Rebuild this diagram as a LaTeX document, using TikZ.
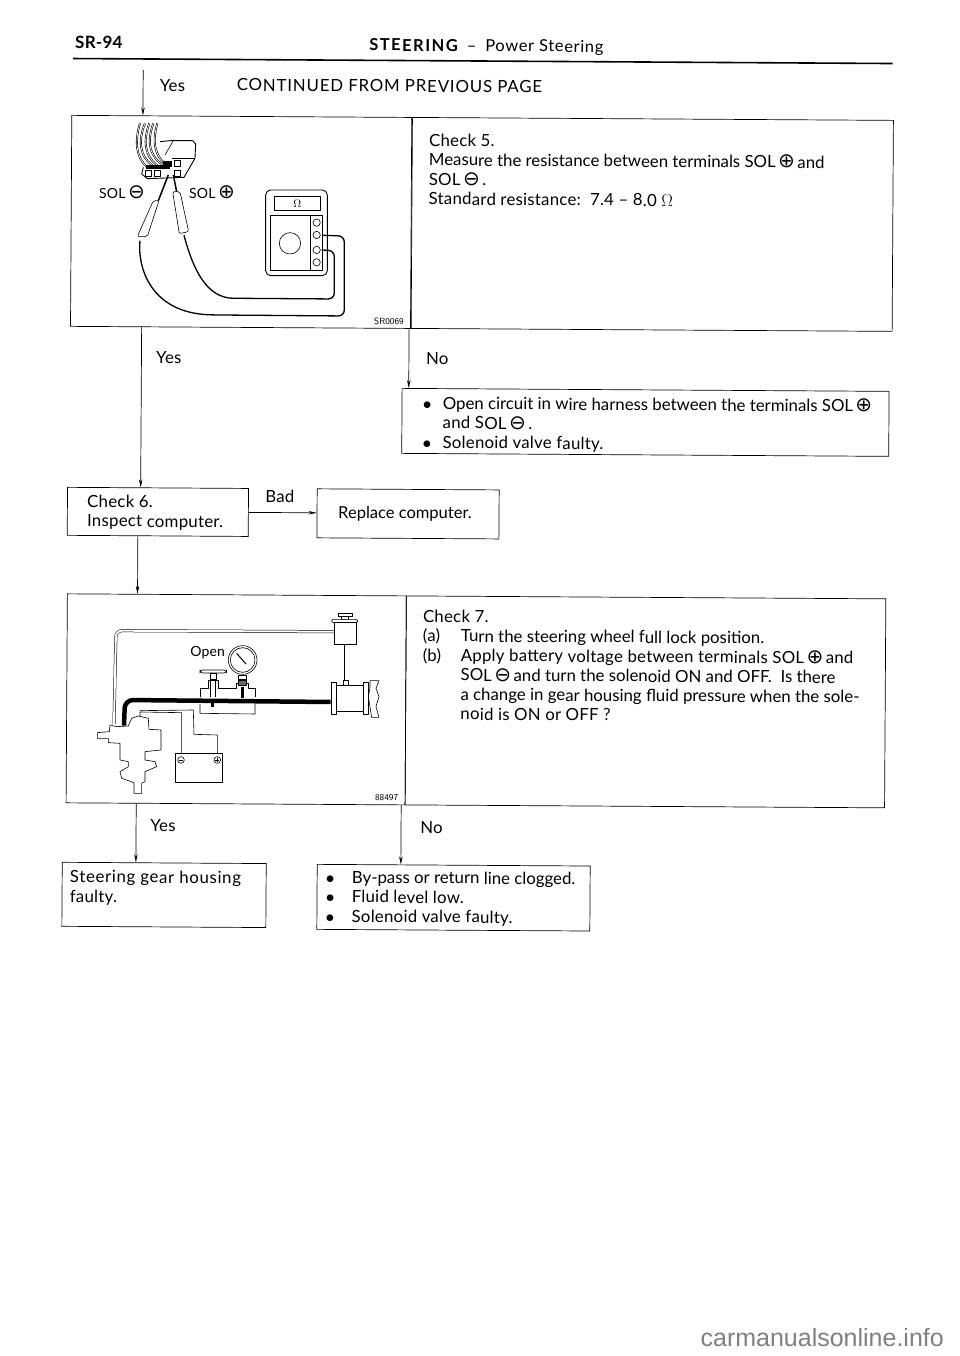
\documentclass[tikz,border=0pt]{standalone}
\usepackage{fontspec}
\setmainfont{Lato}[LetterSpace=1.5]
\newfontface\widefont{Lato}[LetterSpace=5]
\newfontface\narrowfont{Lato}[LetterSpace=0]
\newfontface\sitefont{Liberation Sans}
\newfontface\symfont{DejaVu Sans}
\usetikzlibrary{positioning, arrows.meta, calc}
\newcommand{\opl}{\hspace{2.5pt}{\symfont\fontsize{20}{20}\selectfont ⊕}\hspace{2.5pt}}
\newcommand{\omi}{\hspace{2.5pt}{\symfont\fontsize{20}{20}\selectfont ⊖}\hspace{2.5pt}}
\newcommand{\bul}[1][20pt]{\makebox[#1][l]{$\bullet$}}

\begin{document}
\begin{tikzpicture}[
  x=1pt, y=-1pt,
  % ---- Style definitions ----
  boxed/.style={
    draw, rectangle, line width=0.7pt, inner sep=0pt, anchor=north west
  },
  txt/.style={
    inner sep=0pt, align=left, anchor=north west,
    font=\fontsize{16.8}{19.5}\selectfont
  },
  tiny/.style={
    inner sep=0pt, font=\sffamily\fontsize{9}{10}\selectfont
  },
  figlbl/.style={
    inner sep=0pt, font=\fontsize{14}{16}\selectfont
  },
  arr/.style={
    -{Stealth[length=8pt, width=3.5pt]}, line width=0.7pt
  },
  pipe/.style={
    line width=0.5pt, double=white, double distance=2pt, rounded corners=6pt
  },
  fig/.style={
    line width=0.6pt, line join=round
  },
  lead/.style={
    line width=1.3pt, rounded corners=6pt
  },
]
\useasboundingbox (0,0) rectangle (960,1356);
\fill[white] (0,0) rectangle (960,1356);

% ---- Everything on the page sits a little skew ----
\begin{scope}[rotate around={-0.35:(480,678)}, transform shape]

% ---- Header ----
\node[inner sep=0pt, font=\bfseries\fontsize{17}{18}\selectfont] (page) at (95,45) {SR-94};
\node[inner sep=0pt, font=\fontsize{16.5}{18}\selectfont] (title) at (482.5,47)
  {{\bfseries\addfontfeature{LetterSpace=9}STEERING}\ \ –\ \ \addfontfeature{LetterSpace=4}Power Steering};
\coordinate (ruleL) at (69,61);
\coordinate (ruleR) at (889,61);
\draw[line width=1.6pt] (ruleL) -- (ruleR);

\node[txt, font=\widefont\fontsize{16.8}{19.5}\selectfont] (cont) at (233,80) {CONTINUED FROM PREVIOUS PAGE};
\node[txt] (yesa) at (156,81) {Yes};
\coordinate (stema) at (139.5,72);

% ---- Boxes (top to bottom) ----
\node[boxed, minimum width=340pt, minimum height=211pt] (figfive) at (68,117.5) {};
\node[boxed, minimum width=481pt, minimum height=211pt, right=0pt of figfive.north east, anchor=north west] (chkfive) {};
\node[txt, below right=16.5pt and 17pt of chkfive.north west] (chkfivetxt)
  {Check 5.\\
   {\narrowfont Measure the resistance between terminals SOL\opl and}\\
   SOL\omi.\\
   Standard resistance:\ \ 7.4 -- 8.0 $\Omega$};

\node[boxed, minimum width=487pt, minimum height=65pt] (nobox) at (400,388.5) {};
\node[txt, below right=8pt and 21pt of nobox.north west] (noboxtxt)
  {\bul{\narrowfont Open circuit in wire harness between the terminals SOL\opl}\\
   \phantom{\bul}and SOL\omi.\\
   \bul Solenoid valve faulty.};

\node[boxed, minimum width=181pt, minimum height=48pt] (chksix) at (66,489.5) {};
\node[txt, below right=7.5pt and 20pt of chksix.north west] (chksixtxt) {Check 6.\\Inspect computer.};

\node[boxed, minimum width=182pt, minimum height=49pt, right=68pt of chksix.north east, anchor=north west] (repl) {};
\node[txt, anchor=center, xshift=-3pt, font=\narrowfont\fontsize{16.5}{19.5}\selectfont] (repltxt) at (repl.center) {Replace computer.};

\node[boxed, minimum width=339pt, minimum height=209pt] (figseven) at (66.5,596) {};
\node[boxed, minimum width=479.5pt, minimum height=209pt] (chkseven) at (405.5,596) {};
\node[txt, below right=14pt and 17pt of chkseven.north west] (chkseventxt)
  {Check 7.\\
   \makebox[38pt][l]{(a)}{\narrowfont Turn the steering wheel full lock position.}\\
   \makebox[38pt][l]{(b)}Apply battery voltage between terminals SOL\opl and\\
   \hspace*{38pt}{\narrowfont SOL\omi and turn the solenoid ON and OFF.\ \ Is there}\\
   \hspace*{38pt}{\narrowfont a change in gear housing fluid pressure when the sole-}\\
   \hspace*{38pt}noid is ON or OFF ?};

\node[boxed, minimum width=204pt, minimum height=64pt] (gearbox) at (63,864.5) {};
\node[txt, below right=8pt and 8pt of gearbox.north west] (gearboxtxt) {{\addfontfeature{LetterSpace=4}Steering gear housing}\\faulty.};

\node[boxed, minimum width=273pt, minimum height=65pt] (bypass) at (318,865) {};
\node[txt, below right=6.5pt and 9pt of bypass.north west] (bypasstxt)
  {\bul[26pt]{\narrowfont By-pass or return line clogged.}\\
   \bul[26pt]Fluid level low.\\
   \bul[26pt]Solenoid valve faulty.};

% ---- Flow labels ----
\node[txt] (yesb) at (154,353) {Yes};
\node[txt] (nob) at (424,353) {No};
\node[txt] (bad) at (264,491) {Bad};
\node[txt] (yesc) at (151,821) {Yes};
\node[txt] (noc) at (421,822) {No};

% ---- Arrows ----
\coordinate (stemb) at (407,331);
\coordinate (stemc) at (137,540);
\coordinate (stemd) at (402,808);
\draw[arr] (stema) -- (stema |- figfive.north);
\draw[arr] (stema |- figfive.south) -- (stema |- chksix.north);
\draw[arr] (stemb |- figfive.south) -- (stemb |- nobox.north);
\draw[arr] (chksix.east) -- (repl.west |- chksix.east);
\draw[arr] (stemc |- chksix.south) -- (stemc |- figseven.north);
\draw[arr] (stemc |- figseven.south) -- (stemc |- gearbox.north);
\draw[arr] (stemd |- figseven.south) -- (stemd |- bypass.north);
\end{scope}

% ---- Ohmmeter picture ----
\begin{scope}[shift={(60,80)}, x=0.3333pt, y=-0.3333pt, fig]
  \foreach \a/\b/\c in {240/225/262, 255/235/285, 268/250/300, 280/262/320, 292/278/330}
    \draw[line width=0.6pt, double=white, double distance=0.7pt]
      (\a,130) .. controls (\b,180) and (\b,230) .. (\c,262);
  \draw[line width=0.9pt] (300,185) -- (330,182) -- (398,182) -- (407,192) -- (405,235) -- (372,292) -- (262,296) -- (245,282) -- (250,262);
  \draw (340,182) -- (315,225);
  \draw (335,235) -- (405,235);
  \fill (310,243) rectangle (335,262);
  \draw (342,240) rectangle (362,258);
  \draw (342,270) rectangle (362,288);
  \fill (258,255) rectangle (330,268);
  \draw (255,272) rectangle (275,288);
  \draw (282,272) rectangle (302,288);
  % probes
  \draw[line width=1.5pt] (325,285) -- (295,362);
  \draw[rounded corners=2pt] (280,362) -- (297,362) -- (262,470) -- (232,470) -- cycle;
  \draw[line width=1.5pt] (340,285) -- (350,335);
  \draw[rounded corners=2pt] (338,335) -- (360,335) -- (386,455) -- (358,461) -- cycle;
  \draw[lead] (240,482) .. controls (232,560) and (270,700) .. (470,705) -- (853,708) -- (853,468) -- (788,466);
  \draw[lead] (372,466) .. controls (400,570) and (440,655) .. (540,655) -- (823,657) -- (823,512) -- (785,510);
  % meter
  \draw[line width=0.9pt, rounded corners=5pt] (617,330) rectangle (802,587);
  \draw (643,350) rectangle (780,390);
  \draw (630,405) rectangle (788,570);
  \draw (752,405) -- (752,570);
  \draw (690,490) circle (32);
  \foreach \yy in {428,465,510,547}
    \draw (770,\yy) circle (11);
  \node[inner sep=0pt, font=\fontsize{11}{12}\selectfont] (ohm) at (712,371) {$\Omega$};
  \node[figlbl] (solm) at (186,337) {SOL\omi};
  \node[figlbl] (solp) at (456,337) {SOL\opl};
  \node[tiny] (codea) at (987,725) {SR0069};
\end{scope}

% ---- Pressure test picture ----
\begin{scope}[shift={(60,590)}, x=0.3333pt, y=-0.3333pt, fig]
  % lines
  \draw[pipe] (822,125) -- (168,122) -- (162,402);
  \draw[pipe] (857,162) -- (857,275);
  \draw[line width=4.5pt, rounded corners=8pt] (812,336) -- (195,330) -- (192,407);
  \draw[line width=3pt] (547,290) -- (547,325);
  \draw (240,378) -- (240,366) -- (365,368) -- (365,490);
  \draw (240,362) -- (400,360) -- (402,433) -- (472,435) -- (472,490);
  % reservoir
  \draw[fill=white] (835,70) rectangle (876,78);
  \draw[fill=white] (845,78) rectangle (866,88);
  \draw[fill=white, rounded corners=2pt] (815,88) rectangle (893,98);
  \draw[fill=white] (822,98) rectangle (888,162);
  % pump
  \draw[fill=white] (850,272) rectangle (866,285);
  \draw[fill=white] (828,285) rectangle (910,365);
  \draw[fill=white] (813,278) rectangle (828,373);
  \draw[fill=white] (910,278) rectangle (925,373);
  \draw (930,272) -- (957,272) -- (948,295) -- (957,320) -- (948,350) -- (957,382) -- (935,382) -- (930,350) -- (925,320) -- (930,295) -- cycle;
  % valve and gauge
  \draw (420,322) -- (420,295) -- (445,295) -- (445,270) -- (475,270) -- (475,295) -- (530,295) -- (530,280) -- (565,280) -- (565,295) -- (585,295) -- (585,322);
  \draw (420,342) -- (420,370) -- (585,372) -- (585,342);
  \draw[rounded corners=3pt, fill=white] (420,240) rectangle (500,249);
  \draw (450,249) rectangle (470,268);
  \draw (452,270) -- (452,322);
  \draw (465,270) -- (465,322);
  \draw[line width=3pt] (458,338) -- (458,352);
  \draw (548,210) circle (43);
  \draw (548,210) circle (37);
  \draw[line width=1pt] (530,190) -- (558,222);
  \draw (535,255) rectangle (560,268);
  \draw[fill=black!60] (535,270) rectangle (560,285);
  % gear housing
  \draw[fill=white] (112,428) -- (148,425) -- (150,405) -- (170,410) -- (205,408) -- (215,385) -- (235,378) -- (265,385) -- (267,418) -- (303,420) -- (303,480) -- (255,485) -- (255,510) -- (285,515) -- (290,530) -- (255,545) -- (255,575) -- (245,580) -- (245,610) -- (222,610) -- (222,578) -- (185,565) -- (180,545) -- (205,530) -- (205,515) -- (180,510) -- (180,460) -- (145,458) -- (145,445) -- (112,445) -- cycle;
  % battery
  \draw[fill=white] (345,490) rectangle (488,577);
  \draw (363,510) circle (10);
  \draw (472,510) circle (10);
  \draw (357,510) -- (369,510);
  \draw (466,510) -- (478,510) (472,504) -- (472,516);
  \node[figlbl] (open) at (443,187) {Open};
  \node[tiny] (codeb) at (980,622) {88497};
\end{scope}

% ---- Scan footer ----
\node[inner sep=0pt, text=black!50, font=\sitefont\fontsize{25}{28}\selectfont, anchor=east] (site) at (944,1338) {carmanualsonline.info};
\end{tikzpicture}
\end{document}
